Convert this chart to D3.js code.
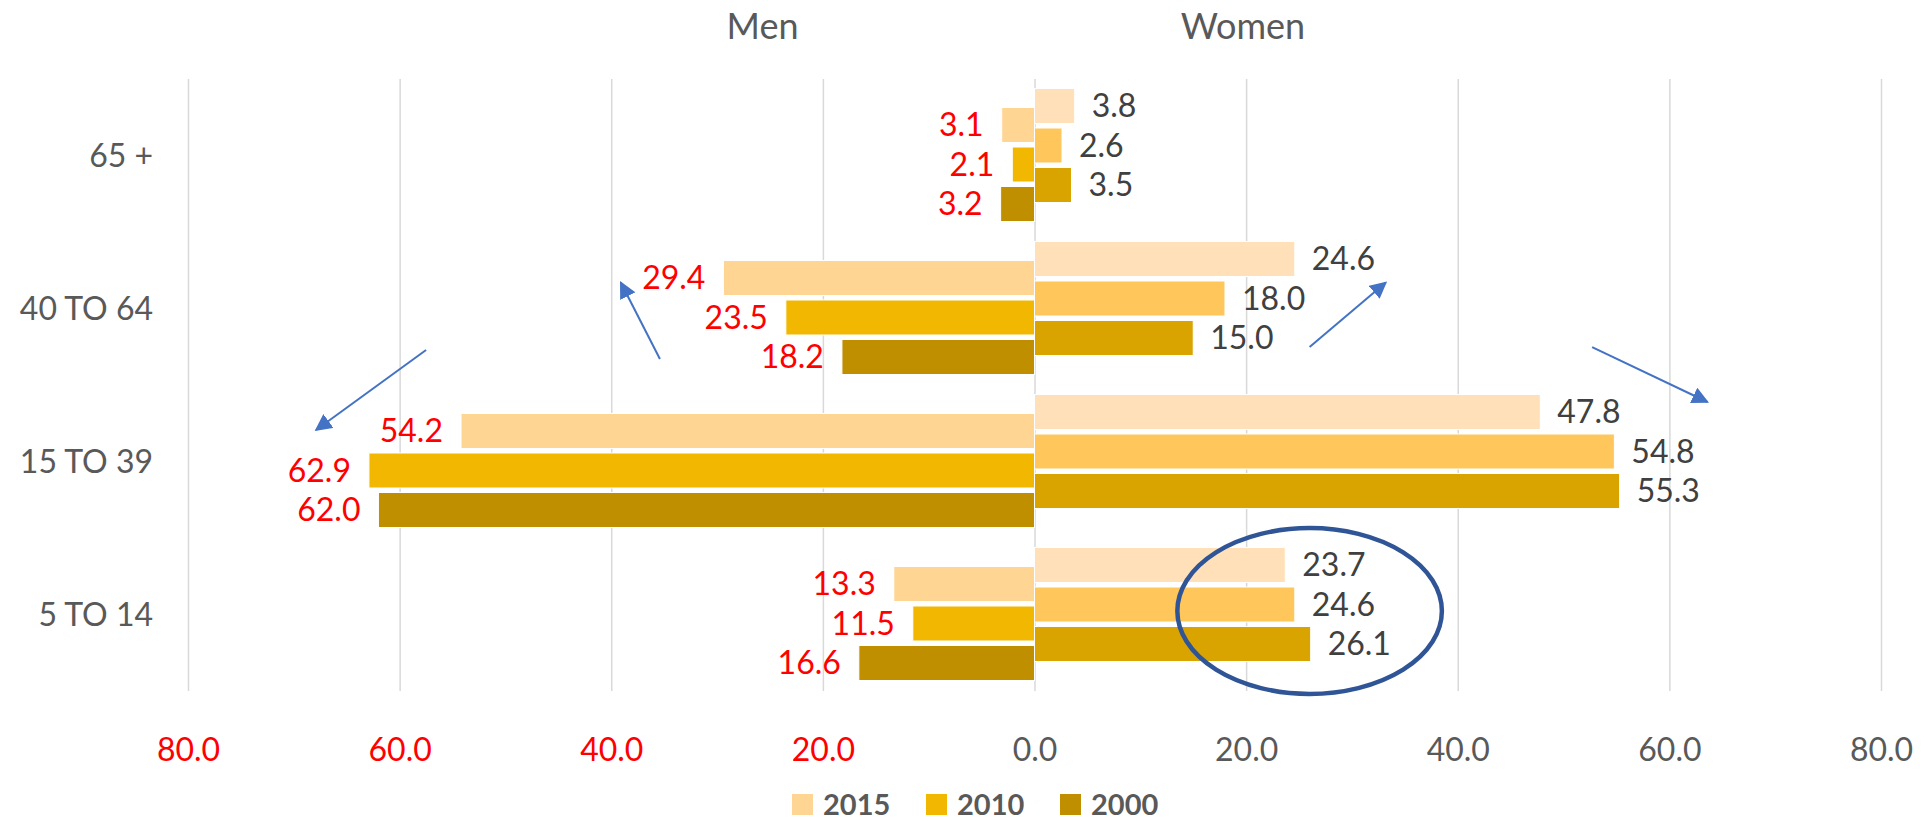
<!DOCTYPE html>
<html>
<head>
<meta charset="utf-8">
<script src="https://cdn.jsdelivr.net/npm/d3@7"></script>
<style>
  html, body { margin: 0; padding: 0; background: #fff; }
  svg text { font-family: Lato, "Open Sans", sans-serif; }
</style>
</head>
<body>
<div id="chart"></div>
<script>
// data
const ageGroups = ['65 +', '40 TO 64', '15 TO 39', '5 TO 14'];
const years = ['2015', '2010', '2000'];
const men2015 = [3.1, 29.4, 54.2, 13.3];
const men2010 = [2.1, 23.5, 62.9, 11.5];
const men2000 = [3.2, 18.2, 62.0, 16.6];
const women2015 = [3.8, 24.6, 47.8, 23.7];
const women2010 = [2.6, 18.0, 54.8, 24.6];
const women2000 = [3.5, 15.0, 55.3, 26.1];
const tickValues = [-80, -60, -40, -20, 0, 20, 40, 60, 80];

const menColors = { '2015': '#FFD594', '2010': '#F2B700', '2000': '#BF8F00' };
const womenColors = { '2015': '#FFE0B9', '2010': '#FFC65B', '2000': '#D9A300' };

const menSeries = { '2015': men2015, '2010': men2010, '2000': men2000 };
const womenSeries = { '2015': women2015, '2010': women2010, '2000': women2000 };

const W = 1924, H = 821;
const svg = d3.select('#chart').append('svg').attr('width', W).attr('height', H);

const x = d3.scaleLinear().domain([-80, 80]).range([188, 1881]);
const y = d3.scaleBand().domain(ageGroups).range([79, 691]);
const yUnit = d3.scaleLinear().domain([0, 4]).range([79, 691]); // continuous band units for annotations
const sub = d3.scaleBand().domain(years).range([-57, 57]).paddingInner(0.114);

// grid
const grid = svg.append('g').attr('transform', `translate(0,${y.range()[1]})`)
  .call(d3.axisBottom(x).tickValues(tickValues).tickSize(-(y.range()[1] - y.range()[0])).tickFormat(''));
grid.select('.domain').remove();
grid.selectAll('line').attr('stroke', '#D9D9D9').attr('stroke-width', 1.5);

// x tick labels
const xAxis = svg.append('g').attr('transform', `translate(0,${y.range()[1]})`)
  .call(d3.axisBottom(x).tickValues(tickValues).tickSize(0).tickPadding(47)
    .tickFormat(d => Math.abs(d).toFixed(1)));
xAxis.select('.domain').remove();
xAxis.selectAll('text').attr('font-size', 32).attr('font-family', 'Lato, sans-serif')
  .attr('fill', d => d < 0 ? '#FF0000' : '#595959');

// category labels
svg.append('g').selectAll('text').data(ageGroups).join('text')
  .attr('x', 153).attr('y', d => y(d) + y.bandwidth() / 2)
  .attr('dy', '0.35em').attr('text-anchor', 'end')
  .attr('font-size', 32).attr('fill', '#595959').text(d => d);

// flatten
const menOff = 9, womenOff = -10;
const rows = [];
years.forEach(yr => ageGroups.forEach((g, i) => {
  rows.push({ side: 'men', year: yr, group: g, v: menSeries[yr][i] });
  rows.push({ side: 'women', year: yr, group: g, v: womenSeries[yr][i] });
}));
const cy = d => y(d.group) + y.bandwidth() / 2 + (d.side === 'men' ? menOff : womenOff) + sub(d.year) + sub.bandwidth() / 2;

svg.append('g').selectAll('rect').data(rows).join('rect')
  .attr('x', d => d.side === 'men' ? x(-d.v) : x(0))
  .attr('width', d => x(d.v) - x(0))
  .attr('y', d => cy(d) - sub.bandwidth() / 2)
  .attr('height', sub.bandwidth())
  .attr('fill', d => (d.side === 'men' ? menColors : womenColors)[d.year])
  .attr('stroke', '#fff').attr('stroke-width', 1);

svg.append('g').selectAll('text').data(rows).join('text')
  .attr('x', d => d.side === 'men' ? x(-d.v) - 18 : x(d.v) + 17)
  .attr('y', d => cy(d)).attr('dy', '0.35em')
  .attr('text-anchor', d => d.side === 'men' ? 'end' : 'start')
  .attr('font-size', 32)
  .attr('fill', d => d.side === 'men' ? '#FF0000' : '#404040')
  .text(d => d.v.toFixed(1));

// side titles
const titles = [{ t: 'Men', v: -25.7 }, { t: 'Women', v: 19.7 }];
svg.append('g').selectAll('text').data(titles).join('text')
  .attr('x', d => x(d.v)).attr('y', 39).attr('text-anchor', 'middle')
  .attr('font-size', 36).attr('font-weight', 400).attr('fill', '#595959').text(d => d.t);

// annotations (x in data units, y in band units)
const arrows = [
  { x1: -57.5, y1: 1.771, x2: -67.9, y2: 2.294 },
  { x1: -35.4, y1: 1.830, x2: -39.1, y2: 1.330 },
  { x1: 26.0, y1: 1.752, x2: 33.2, y2: 1.330 },
  { x1: 52.7, y1: 1.752, x2: 63.6, y2: 2.111 }
];
svg.append('defs').append('marker').attr('id', 'ah')
  .attr('viewBox', '0 0 10 10').attr('refX', 9).attr('refY', 5)
  .attr('markerWidth', 8.5).attr('markerHeight', 8.5).attr('markerUnits', 'strokeWidth')
  .attr('orient', 'auto')
  .append('path').attr('d', 'M0,0 L10,5 L0,10 z').attr('fill', '#4472C4');
svg.append('g').selectAll('line').data(arrows).join('line')
  .attr('x1', d => x(d.x1)).attr('y1', d => yUnit(d.y1))
  .attr('x2', d => x(d.x2)).attr('y2', d => yUnit(d.y2))
  .attr('stroke', '#4472C4').attr('stroke-width', 2).attr('marker-end', 'url(#ah)');

const ellipse = { cx: 26.0, cy: 3.477, rx: 12.5, ry: 0.542 };
svg.append('ellipse')
  .attr('cx', x(ellipse.cx)).attr('cy', yUnit(ellipse.cy))
  .attr('rx', x(ellipse.rx) - x(0)).attr('ry', yUnit(ellipse.ry) - yUnit(0))
  .attr('fill', 'none').attr('stroke', '#2F5597').attr('stroke-width', 4.5);

// legend
const legend = svg.append('g').selectAll('g').data(years).join('g')
  .attr('transform', (d, i) => `translate(${792 + i * 134},794)`);
legend.append('rect').attr('width', 21).attr('height', 21).attr('fill', d => menColors[d]);
legend.append('text').attr('x', 31).attr('y', 21).attr('font-size', 29).attr('font-weight', 700)
  .attr('fill', '#595959').text(d => d);
</script>
</body>
</html>
